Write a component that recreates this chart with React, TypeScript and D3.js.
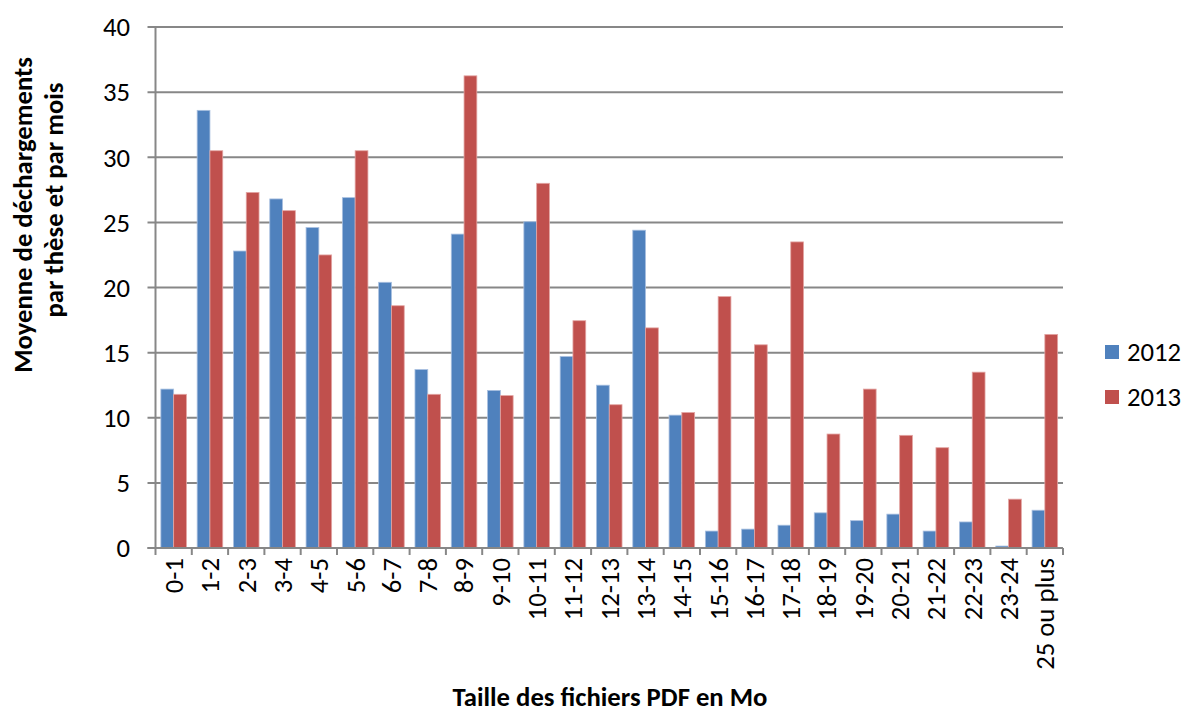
import React from "react";
import * as d3 from "d3";

const categories = ["0-1","1-2","2-3","3-4","4-5","5-6","6-7","7-8","8-9","9-10","10-11","11-12","12-13","13-14","14-15","15-16","16-17","17-18","18-19","19-20","20-21","21-22","22-23","23-24","25 ou plus"];
const values2012 = [12.2,33.6,22.8,26.8,24.6,26.9,20.4,13.7,24.1,12.1,25.05,14.7,12.5,24.4,10.2,1.3,1.45,1.75,2.7,2.1,2.6,1.3,2.0,0.15,2.9];
const values2013 = [11.8,30.5,27.3,25.9,22.5,30.5,18.6,11.8,36.25,11.7,28.0,17.45,11.0,16.9,10.4,19.3,15.6,23.5,8.75,12.2,8.65,7.7,13.5,3.75,16.4];
const seriesNames = ["2012","2013"];
const seriesColors = ["#4F81BD","#C0504D"];
const strokeColors = ["#a9c0e0","#e3a5a3"];
const yTicks = [0,5,10,15,20,25,30,35,40];

const W = 1184, H = 713;
const left = 155.5, right = 1063, top = 27, bottom = 548;
const FONT = "Carlito, Calibri, Lato, 'Open Sans', sans-serif";
const FS = 26.7;

export default function App() {
  const x = d3.scaleBand<string>().domain(categories).range([left, right]).paddingInner(0).paddingOuter(0);
  const y = d3.scaleLinear().domain([0, 40]).range([bottom, top]);
  const bw = x.bandwidth();
  const sub = d3.scaleBand<string>().domain(seriesNames).range([0, bw]).paddingOuter(0.42).paddingInner(0);
  const data = [values2012, values2013];

  return (
    <svg width={W} height={H} style={{ position: "absolute", left: 0, top: 0, background: "#fff" }} fontFamily={FONT}>
      {yTicks.map((t) => (
        <g key={t}>
          <line x1={left - 8} x2={right} y1={y(t)} y2={y(t)} stroke="#878787" strokeWidth={2} />
          <text x={130} y={y(t)} dy="0.35em" textAnchor="end" fontSize={FS} fill="#000">{t}</text>
        </g>
      ))}
      {categories.map((c, i) => (
        <g key={c} transform={`translate(${x(c)},0)`}>
          {seriesNames.map((s, k) => {
            const v = data[k][i];
            return (
              <rect key={s} x={sub(s)} y={y(v)} width={sub.bandwidth()} height={bottom - y(v)}
                fill={seriesColors[k]} stroke={strokeColors[k]} strokeWidth={0.8} />
            );
          })}
        </g>
      ))}
      <line x1={left} x2={left} y1={top} y2={bottom + 7} stroke="#878787" strokeWidth={2} />
      <line x1={left - 8} x2={right} y1={bottom} y2={bottom} stroke="#878787" strokeWidth={2} />
      {categories.map((c) => (
        <line key={"t" + c} x1={(x(c) as number) + bw} x2={(x(c) as number) + bw} y1={bottom} y2={bottom + 7} stroke="#878787" strokeWidth={2} />
      ))}
      {categories.map((c) => (
        <text key={"l" + c} transform={`translate(${(x(c) as number) + bw / 2},${bottom + 10}) rotate(-90)`}
          textAnchor="end" dy="0.35em" fontSize={FS} fill="#000">{c}</text>
      ))}
      <text transform={`translate(32,215) rotate(-90)`} textAnchor="middle" fontSize={FS} fontWeight="bold" fill="#000">Moyenne de déchargements</text>
      <text transform={`translate(63,200) rotate(-90)`} textAnchor="middle" fontSize={FS} fontWeight="bold" fill="#000">par thèse et par mois</text>
      <text x={610} y={706} textAnchor="middle" fontSize={FS} fontWeight="bold" fill="#000">Taille des fichiers PDF en Mo</text>
      {seriesNames.map((s, k) => (
        <g key={"lg" + s} transform={`translate(1105,${352 + k * 45})`}>
          <rect x={0} y={-7} width={14} height={14} fill={seriesColors[k]} />
          <text x={22} y={0} dy="0.35em" fontSize={FS} fill="#000">{s}</text>
        </g>
      ))}
    </svg>
  );
}
